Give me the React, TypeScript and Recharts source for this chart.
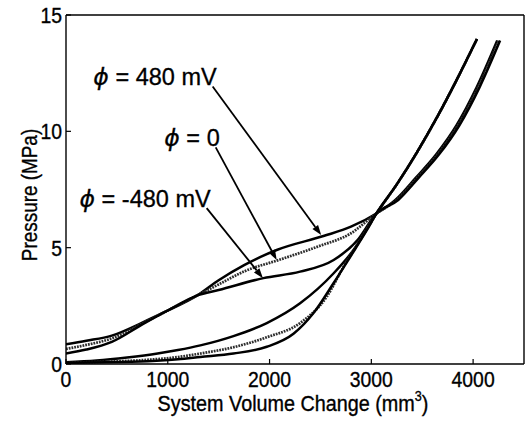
import { LineChart, Line, XAxis, YAxis, ReferenceLine, Label } from "recharts";

const FONT = '"Liberation Sans", Arial, Helvetica, sans-serif';
const INK = "#000";

// unloading branches (upper S-shaped curves, come down from the thick top line)
const unload480X = [0, 200, 450, 750, 1000, 1290, 1500, 1750, 2070, 2530, 2800, 3050, 3236, 3436, 3636, 3836, 4036, 4237];
const unload480Y = [0.85, 1.0, 1.22, 1.78, 2.3, 2.95, 3.6, 4.25, 4.9, 5.5, 5.9, 6.47, 7.05, 8.0, 9.0, 10.25, 11.9, 13.9];

const unload0X = [0, 200, 450, 750, 1000, 1290, 1500, 1750, 2090, 2470, 2800, 3050, 3250, 3450, 3650, 3850, 4050, 4251];
const unload0Y = [0.65, 0.82, 1.1, 1.74, 2.3, 2.95, 3.42, 3.98, 4.47, 5.04, 5.62, 6.47, 7.05, 8.0, 9.0, 10.25, 11.9, 13.9];

const unloadNegX = [0, 200, 450, 750, 1000, 1290, 1500, 1940, 2300, 2630, 2860, 3050, 3264, 3464, 3664, 3864, 4064, 4265];
const unloadNegY = [0.45, 0.62, 0.95, 1.7, 2.3, 2.95, 3.18, 3.69, 3.97, 4.47, 5.3, 6.47, 7.05, 8.0, 9.0, 10.25, 11.9, 13.9];

// loading branches (lower curves, go up the thin top line)
const load480X = [0, 300, 600, 900, 1100, 1320, 1645, 1973, 2300, 2630, 2825, 3050, 3250, 3450, 3650, 3850, 4038];
const load480Y = [0.08, 0.15, 0.28, 0.45, 0.6, 0.8, 1.2, 1.76, 2.61, 3.9, 4.9, 6.47, 7.72, 9.11, 10.64, 12.31, 13.97];

const load0X = [0, 400, 800, 1100, 1320, 1645, 1973, 2300, 2563, 2727, 2890, 3050, 3250, 3450, 3650, 3850, 4038];
const load0Y = [0.06, 0.1, 0.18, 0.3, 0.45, 0.72, 1.15, 1.76, 2.9, 4.18, 5.33, 6.47, 7.72, 9.11, 10.64, 12.31, 13.97];

const loadNegX = [0, 400, 800, 1100, 1320, 1645, 1973, 2235, 2432, 2628, 2793, 2957, 3050, 3250, 3450, 3650, 3850, 4038];
const loadNegY = [0.05, 0.07, 0.12, 0.2, 0.3, 0.45, 0.74, 1.3, 2.19, 3.47, 4.61, 5.76, 6.47, 7.72, 9.11, 10.64, 12.31, 13.97];

const xTicks = [0, 1000, 2000, 3000, 4000];
const yTicks = [0, 5, 10, 15];

// annotations: label text, arrow start (at label) and arrow tip (on curve)
const noteLabels = ["480 mV", "0", "-480 mV"];
const noteFromX = [1441, 1471, 1382];
const noteFromY = [11.93, 9.31, 6.7];
const noteToX = [2507, 2070, 1935];
const noteToY = [5.54, 4.47, 3.69];

const zip = (xs: number[], ys: number[]) => xs.map((x, i) => ({ x, y: ys[i] }));

const series = [
  { id: "u480", data: zip(unload480X, unload480Y), dotted: false },
  { id: "u0", data: zip(unload0X, unload0Y), dotted: true },
  { id: "uNeg", data: zip(unloadNegX, unloadNegY), dotted: false },
  { id: "l480", data: zip(load480X, load480Y), dotted: false },
  { id: "l0", data: zip(load0X, load0Y), dotted: true },
  { id: "lNeg", data: zip(loadNegX, loadNegY), dotted: false },
];

const textStyle = { fontFamily: FONT, fill: INK, stroke: INK, strokeWidth: 0.35 };

function XTick(props: any) {
  const { x, y, payload } = props;
  return (
    <g transform={`translate(${x},${y}) scale(0.88,1)`}>
      <text x={0} y={16} textAnchor="middle" fontSize={22} style={textStyle}>
        {payload.value}
      </text>
    </g>
  );
}

function YTick(props: any) {
  const { x, y, payload } = props;
  return (
    <g transform={`translate(${x},${y}) scale(0.88,1)`}>
      <text x={0} y={8} textAnchor="end" fontSize={22} style={textStyle}>
        {payload.value}
      </text>
    </g>
  );
}

function arrowShape(text: string) {
  return (props: any) => {
    const { x1, y1, x2, y2 } = props;
    const dx = x2 - x1;
    const dy = y2 - y1;
    const len = Math.sqrt(dx * dx + dy * dy);
    const ux = dx / len;
    const uy = dy / len;
    const head = 10;
    const half = 3.5;
    const bx = x2 - ux * head;
    const by = y2 - uy * head;
    return (
      <g>
        <line x1={x1} y1={y1} x2={bx} y2={by} stroke={INK} strokeWidth={1.8} />
        <polygon
          points={`${x2},${y2} ${bx - uy * half},${by + ux * half} ${bx + uy * half},${by - ux * half}`}
          fill={INK}
        />
        <text x={x1 + 4} y={y1 - 1} textAnchor="end" fontSize={23.5} style={{ ...textStyle, strokeWidth: 0.3 }}>
          <tspan fontStyle="italic" fontFamily='"DejaVu Sans", sans-serif'>
            ϕ
          </tspan>
          {` = ${text}`}
        </text>
      </g>
    );
  };
}

export default function App() {
  return (
    <div style={{ position: "absolute", left: 0, top: 0, width: 527, height: 422, background: "#fff" }}>
      <LineChart width={527} height={422} margin={{ top: 15, right: 3, bottom: 0, left: 0 }}>
        <XAxis
          dataKey="x"
          type="number"
          domain={[0, 4500]}
          ticks={xTicks}
          allowDataOverflow
          height={58}
          tickSize={-5}
          tickMargin={12}
          axisLine={{ stroke: INK, strokeWidth: 1.4 }}
          tickLine={{ stroke: INK, strokeWidth: 1.2 }}
          tick={<XTick />}
        >
          <Label
            content={() => (
              <g transform="translate(293,411) scale(0.9,1)">
                <text x={0} y={0} textAnchor="middle" fontSize={22} style={textStyle}>
                  System Volume Change (mm
                  <tspan dy={-10} fontSize={14}>
                    3
                  </tspan>
                  <tspan dy={10}>)</tspan>
                </text>
              </g>
            )}
          />
        </XAxis>
        <XAxis
          xAxisId="top"
          orientation="top"
          type="number"
          domain={[0, 4500]}
          ticks={xTicks}
          mirror
          tick={false}
          tickSize={5}
          axisLine={{ stroke: INK, strokeWidth: 1.4 }}
          tickLine={{ stroke: INK, strokeWidth: 1.2 }}
        />
        <YAxis
          type="number"
          domain={[0, 15]}
          ticks={yTicks}
          allowDataOverflow
          width={66}
          tickSize={-5}
          tickMargin={9}
          axisLine={{ stroke: INK, strokeWidth: 1.4 }}
          tickLine={{ stroke: INK, strokeWidth: 1.2 }}
          tick={<YTick />}
        >
          <Label
            content={() => (
              <g transform="translate(29,195) rotate(-90) scale(0.86,1)">
                <text x={0} y={0} textAnchor="middle" dominantBaseline="central" fontSize={22} style={textStyle}>
                  Pressure (MPa)
                </text>
              </g>
            )}
          />
        </YAxis>
        <YAxis
          yAxisId="right"
          orientation="right"
          type="number"
          domain={[0, 15]}
          ticks={yTicks}
          mirror
          tick={false}
          tickSize={5}
          axisLine={{ stroke: INK, strokeWidth: 1.4 }}
          tickLine={{ stroke: INK, strokeWidth: 1.2 }}
        />
        {series.map((s) => (
          <Line
            key={s.id}
            data={s.data}
            dataKey="y"
            type="monotone"
            dot={false}
            activeDot={false}
            stroke={s.dotted ? "#2e2e2e" : INK}
            strokeWidth={s.dotted ? 2.7 : 2.5}
            strokeDasharray={s.dotted ? "1.8 1" : undefined}
            isAnimationActive={false}
          />
        ))}
        {noteLabels.map((t, i) => (
          <ReferenceLine
            key={t}
            segment={[
              { x: noteFromX[i], y: noteFromY[i] },
              { x: noteToX[i], y: noteToY[i] },
            ]}
            stroke={INK}
            shape={arrowShape(t)}
          />
        ))}
      </LineChart>
    </div>
  );
}
